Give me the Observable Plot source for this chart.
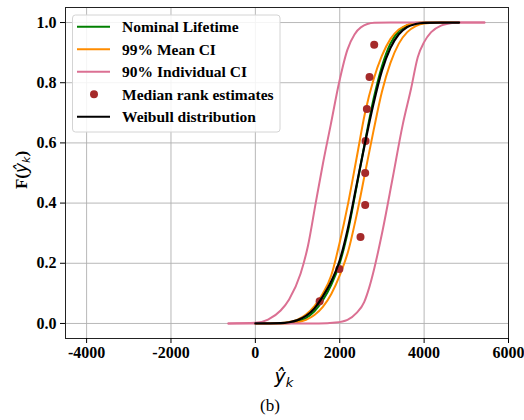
<!DOCTYPE html>
<html>
<head>
<meta charset="utf-8">
<script src="https://cdn.jsdelivr.net/npm/d3@7"></script>
<script src="https://cdn.jsdelivr.net/npm/@observablehq/plot@0.6"></script>
<style>
  html, body { margin: 0; padding: 0; background: white; }
  svg { display: block; }
</style>
</head>
<body>
<div id="chart"></div>
<script>
// ---- data ----
const xTicks = [-4000, -2000, 0, 2000, 4000, 6000];
const yTicks = [0.0, 0.2, 0.4, 0.6, 0.8, 1.0];

// Weibull distribution (black)
const weibullX = [0, 600, 800, 1000, 1200, 1400, 1600, 1800, 2000, 2200, 2400, 2600, 2800, 3000, 3200, 3400, 3600, 3800, 4000, 4400, 4830];
const weibullF = [0, 0.001, 0.004, 0.011, 0.025, 0.05, 0.09, 0.14, 0.21, 0.32, 0.46, 0.60, 0.73, 0.84, 0.915, 0.961, 0.985, 0.995, 0.999, 1.0, 1.0];

// Nominal lifetime (green)
const nominalX = [0, 600, 800, 1000, 1200, 1400, 1600, 1800, 2000, 2200, 2400, 2600, 2800, 3000, 3200, 3400, 3600, 3800, 4000, 4400, 4830];
const nominalF = [0, 0.0005, 0.002, 0.007, 0.018, 0.040, 0.077, 0.128, 0.20, 0.31, 0.455, 0.605, 0.745, 0.855, 0.93, 0.972, 0.991, 0.998, 1.0, 1.0, 1.0];

// 99% mean CI (orange) lower / upper
const meanLoX = [0, 600, 800, 1000, 1200, 1400, 1600, 1800, 2000, 2200, 2400, 2600, 2800, 3000, 3200, 3400, 3600, 3800, 4000, 4400, 4830];
const meanLoF = [0, 0.0015, 0.005, 0.013, 0.03, 0.058, 0.10, 0.16, 0.27, 0.40, 0.55, 0.70, 0.81, 0.89, 0.945, 0.977, 0.992, 0.999, 1.0, 1.0, 1.0];
const meanHiX = [0, 600, 800, 1000, 1200, 1400, 1600, 1800, 2000, 2200, 2400, 2600, 2800, 3000, 3200, 3400, 3600, 3800, 4000, 4400, 4830];
const meanHiF = [0, 0.0002, 0.001, 0.004, 0.012, 0.028, 0.055, 0.098, 0.16, 0.24, 0.36, 0.50, 0.64, 0.77, 0.865, 0.93, 0.968, 0.988, 0.997, 1.0, 1.0];

// 90% individual CI (pink) lower / upper
const indLoX = [-640, 0, 300, 600, 800, 1071, 1250, 1430, 1600, 1786, 1984, 2183, 2350, 2500, 2817, 3200, 5430];
const indLoF = [0, 0.002, 0.013, 0.043, 0.08, 0.165, 0.26, 0.40, 0.53, 0.66, 0.80, 0.91, 0.96, 0.984, 0.999, 1.0, 1.0];
const indHiX = [-640, 1500, 1900, 2183, 2400, 2579, 2700, 2817, 3016, 3250, 3492, 3690, 3849, 4000, 4167, 4400, 4563, 4800, 5430];
const indHiF = [0, 0, 0.003, 0.012, 0.035, 0.071, 0.12, 0.182, 0.309, 0.48, 0.66, 0.78, 0.885, 0.935, 0.968, 0.99, 0.996, 1.0, 1.0];

// Median rank estimates (points)
const rankX = [1524, 1992, 2492, 2603, 2603, 2612, 2643, 2706, 2817];
const rankF = [0.074, 0.181, 0.287, 0.394, 0.5, 0.606, 0.713, 0.819, 0.926];

// legend labels and colors
const seriesNames = ["Nominal Lifetime", "99% Mean CI", "90% Individual CI", "Median rank estimates", "Weibull distribution"];
const seriesColors = ["#008000", "#ff8c00", "#db7093", "#a52a2a", "#000000"];

// ---- build tables ----
const tbl = (xs, ys) => xs.map((x, i) => ({x, y: ys[i]}));
const curve = "monotone-x";

const plot = Plot.plot({
  width: 524,
  height: 420,
  marginLeft: 65,
  marginRight: 16,
  marginTop: 7,
  marginBottom: 82,
  style: {fontFamily: "'Liberation Serif', 'Times New Roman', serif", fontSize: "16px", fontWeight: "bold", color: "black", background: "white"},
  x: {domain: [-4500, 6000]},
  y: {domain: [-0.05, 1.05]},
  marks: [
    Plot.gridX(xTicks, {stroke: "#b0b0b0", strokeOpacity: 1, strokeWidth: 0.9}),
    Plot.gridY(yTicks, {stroke: "#b0b0b0", strokeOpacity: 1, strokeWidth: 0.9}),
    Plot.line(tbl(nominalX, nominalF), {x: "x", y: "y", stroke: seriesColors[0], strokeWidth: 2, curve}),
    Plot.line(tbl(meanLoX, meanLoF), {x: "x", y: "y", stroke: seriesColors[1], strokeWidth: 2, curve}),
    Plot.line(tbl(meanHiX, meanHiF), {x: "x", y: "y", stroke: seriesColors[1], strokeWidth: 2, curve}),
    Plot.line(tbl(indLoX, indLoF), {x: "x", y: "y", stroke: seriesColors[2], strokeWidth: 2, curve}),
    Plot.line(tbl(indHiX, indHiF), {x: "x", y: "y", stroke: seriesColors[2], strokeWidth: 2, curve}),
    Plot.dot(tbl(rankX, rankF), {x: "x", y: "y", r: 4, fill: seriesColors[3], stroke: "none"}),
    Plot.line(tbl(weibullX, weibullF), {x: "x", y: "y", stroke: seriesColors[4], strokeWidth: 2.2, curve}),
    Plot.frame({stroke: "#222", strokeWidth: 1}),
    Plot.axisX({ticks: xTicks, tickFormat: d => String(d), tickSize: 5, tickPadding: 3, label: null}),
    Plot.axisY({ticks: yTicks, tickFormat: d3.format(".1f"), tickSize: 5, tickPadding: 4, label: null})
  ]
});

document.getElementById("chart").appendChild(plot);

// ---- legend, axis titles, caption ----
const svg = d3.select(plot);
const lg = svg.append("g").attr("text-anchor", "start");
lg.append("rect")
  .attr("x", 72.5).attr("y", 15).attr("width", 207.5).attr("height", 117)
  .attr("rx", 3).attr("fill", "white").attr("fill-opacity", 0.85)
  .attr("stroke", "#d4d4d4").attr("stroke-width", 1);
seriesNames.forEach((name, i) => {
  const yy = 26.7 + i * 22.5;
  if (i === 3) {
    lg.append("circle").attr("cx", 94).attr("cy", yy).attr("r", 4).attr("fill", seriesColors[i]);
  } else {
    lg.append("line").attr("x1", 77).attr("x2", 110).attr("y1", yy).attr("y2", yy)
      .attr("stroke", seriesColors[i]).attr("stroke-width", 2);
  }
  lg.append("text").attr("x", 122).attr("y", yy).attr("dy", "0.35em")
    .attr("text-anchor", "start")
    .style("font-family", "'Liberation Serif', serif").style("font-weight", "bold").style("font-size", "15.5px")
    .attr("fill", "black").text(name);
});

// y axis title F(ŷ_k)
const yl = svg.append("text")
  .attr("transform", "translate(27,170) rotate(-90)")
  .attr("text-anchor", "middle")
  .style("font-family", "'Liberation Serif', serif").style("font-weight", "bold").style("font-size", "17px")
  .attr("fill", "black");
yl.append("tspan").text("F(");
yl.append("tspan").style("font-family", "'DejaVu Sans', sans-serif").style("font-style", "italic").style("font-weight", "normal").text("ŷ");
yl.append("tspan").style("font-family", "'DejaVu Sans', sans-serif").style("font-style", "italic").style("font-weight", "normal").style("font-size", "11px").attr("dy", "3").text("k");
yl.append("tspan").attr("dy", "-3").text(")");

// x axis title ŷ_k
const xl = svg.append("text")
  .attr("x", 284).attr("y", 383).attr("text-anchor", "middle")
  .style("font-family", "'DejaVu Sans', sans-serif").style("font-style", "italic").style("font-weight", "normal").style("font-size", "19px")
  .attr("fill", "black");
xl.append("tspan").text("ŷ");
xl.append("tspan").style("font-size", "13px").attr("dy", "4").text("k");

// caption (b)
svg.append("text").attr("x", 270).attr("y", 411).attr("text-anchor", "middle")
  .style("font-family", "'Liberation Serif', serif").style("font-size", "17px").style("font-weight", "normal")
  .attr("fill", "black").text("(b)");
</script>
</body>
</html>
